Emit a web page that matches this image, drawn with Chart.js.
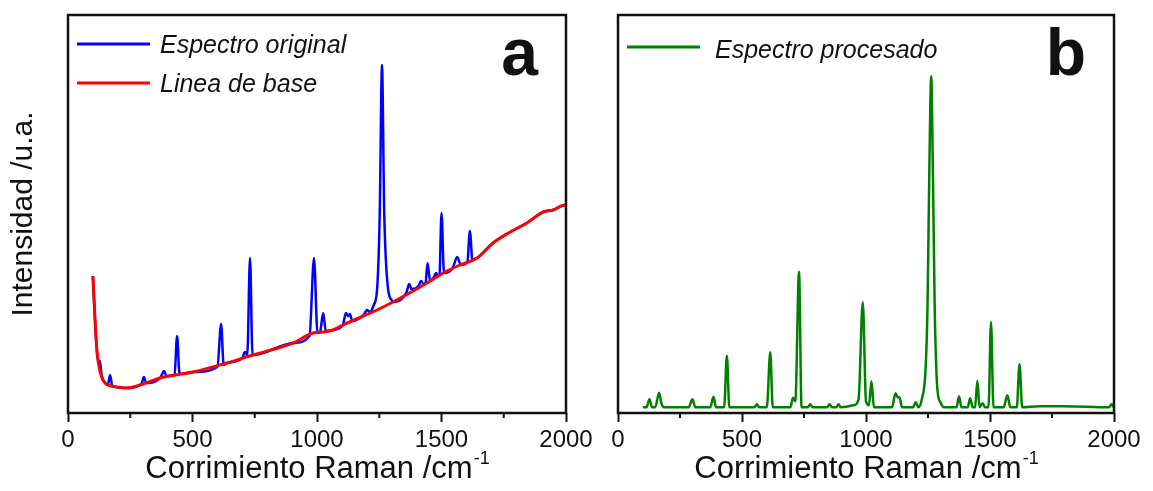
<!DOCTYPE html>
<html lang="es">
<head>
<meta charset="UTF-8">
<title>Espectro Raman</title>
<script src="https://cdn.jsdelivr.net/npm/chart.js@4"></script>
<style>
  body { margin: 0; background: #fff; }
  .wrap { position: relative; width: 1153px; height: 491px; }
  canvas { position: absolute; left: 0; top: 0; }
</style>
</head>
<body>
<div class="wrap">
  <canvas id="chartA" width="1153" height="491"></canvas>
  <canvas id="chartB" width="1153" height="491"></canvas>
</div>
<script>
// Raman shift (cm-1) and intensity (a.u.)
const baseX = [100, 108, 115, 122, 135, 149, 195, 236, 302, 370, 503, 638, 743, 904, 984, 1024, 1064, 1104, 1241, 1305, 1442, 1507, 1574, 1643, 1707, 1776, 1843, 1908, 1948, 1996, 2000];
const baseY = [137, 96, 66, 50, 36, 30, 26, 25, 29, 35, 41, 50, 58, 70, 80, 81, 83, 88, 103, 111, 130, 140, 148, 155, 170, 181, 190, 201, 203, 208, 208];

const origX = [100, 108, 115, 120, 128, 135, 149, 160, 169, 178, 195, 236, 295, 305, 314, 370, 386, 395, 428, 438, 448, 503, 600, 615, 625, 638, 700, 711, 720, 731, 741, 743, 904, 970, 988, 1002, 1012, 1025, 1035, 1064, 1104, 1116, 1125, 1132, 1142, 1190, 1200, 1212, 1228, 1242, 1252, 1261, 1270, 1285, 1300, 1305, 1360, 1370, 1380, 1408, 1418, 1428, 1436, 1444, 1454, 1470, 1478, 1487, 1492, 1500, 1510, 1545, 1563, 1578, 1604, 1614, 1624, 1643, 1707, 1776, 1843, 1908, 1948, 1996, 2000];
const origY = [137, 96, 66, 52, 52, 38, 30, 28, 38, 27, 26, 25, 29, 36, 30, 35, 42, 37, 38, 77, 39, 41, 46, 89, 48, 50, 55, 61, 58, 155, 58, 58, 70, 77, 155, 80, 81, 100, 82, 83, 88, 100, 97, 99, 92, 99, 103, 101, 108, 126, 200, 348, 200, 125, 113, 111, 121, 129, 124, 127, 132, 129, 130, 150, 132, 136, 140, 137, 138, 200, 140, 145, 156, 148, 151, 182, 153, 155, 170, 181, 190, 201, 203, 208, 208];

const procX = [100, 115, 127, 137, 150, 166, 175, 185, 285, 300, 312, 372, 385, 395, 428, 439, 449, 550, 560, 570, 600, 614, 624, 695, 706, 715, 730, 740, 765, 775, 785, 843, 853, 863, 880, 889, 898, 950, 970, 987, 1000, 1012, 1022, 1032, 1105, 1119, 1128, 1135, 1145, 1190, 1200, 1212, 1225, 1240, 1248, 1255, 1263, 1270, 1277, 1287, 1300, 1315, 1365, 1375, 1385, 1410, 1420, 1430, 1440, 1449, 1458, 1470, 1480, 1494, 1504, 1514, 1555, 1570, 1582, 1608, 1619, 1630, 1700, 1800, 1980, 1990, 2000];
const procY = [0, 0, 8, 0, 0, 14.6, 4, 0, 0, 8, 0, 0, 10.6, 0, 0, 51.6, 0, 0, 3, 0, 0, 55, 0, 0, 9.6, 6, 135.6, 0, 0, 3, 0, 0, 3, 0, 0, 3, 0, 2, 8, 105, 6, 2, 26, 0, 0, 14, 10, 10, 0, 0, 5, 0, 8, 37, 100, 230, 331, 230, 100, 21, 5, 0, 0, 11, 0, 0, 9, 0, 0, 26.6, 0, 4, 0, 0, 85.6, 0, 0, 12, 0, 0, 43, 0, 1, 1, 0, 3, 0];

const xTicks = [0, 500, 1000, 1500, 2000];
const minorTicks = [250, 750, 1250, 1750];

const FONT = "'Liberation Sans', Arial, sans-serif";

function pts(xs, ys) {
  return xs.map((x, i) => ({ x: x, y: ys[i] }));
}

// box, minor ticks, legend, panel letter and x title
const framePlugin = {
  id: 'frame',
  afterDraw(chart, args, opts) {
    const ctx = chart.ctx;
    const a = chart.chartArea;
    const x = chart.scales.x;
    ctx.save();
    ctx.strokeStyle = '#111';
    ctx.lineWidth = 2;
    minorTicks.forEach(v => {
      const px = x.getPixelForValue(v);
      ctx.beginPath();
      ctx.moveTo(px, a.bottom);
      ctx.lineTo(px, a.bottom + 5);
      ctx.stroke();
    });
    ctx.lineWidth = 2.5;
    ctx.strokeRect(a.left, a.top, a.right - a.left, a.bottom - a.top);

    ctx.font = 'italic 25px ' + FONT;
    ctx.textBaseline = 'middle';
    chart.data.datasets.forEach((ds, i) => {
      const y = a.top + opts.legendTop + i * 39;
      ctx.strokeStyle = ds.borderColor;
      ctx.lineWidth = 3;
      ctx.beginPath();
      ctx.moveTo(a.left + 9, y);
      ctx.lineTo(a.left + 82, y);
      ctx.stroke();
      ctx.fillStyle = '#111';
      ctx.fillText(ds.label, a.left + opts.textLeft, y + opts.textDy);
    });

    ctx.font = 'bold 66px ' + FONT;
    ctx.textAlign = 'right';
    ctx.textBaseline = 'alphabetic';
    ctx.fillText(opts.letter, a.right - 28, 75);

    ctx.textAlign = 'left';
    const main = 'Corrimiento Raman /cm';
    ctx.font = '31px ' + FONT;
    const wMain = ctx.measureText(main).width;
    ctx.font = '18px ' + FONT;
    const wSup = ctx.measureText('-1').width;
    const x0 = (a.left + a.right) / 2 - (wMain + wSup) / 2;
    ctx.font = '31px ' + FONT;
    ctx.fillText(main, x0, 478);
    ctx.font = '18px ' + FONT;
    ctx.fillText('-1', x0 + wMain + 1, 464);
    ctx.restore();
  }
};

function xScale() {
  return {
    type: 'linear',
    min: 0,
    max: 2000,
    afterFit: s => { s.height = 78; },
    afterBuildTicks: s => { s.ticks = xTicks.map(v => ({ value: v })); },
    ticks: {
      font: { size: 24, family: FONT },
      color: '#111',
      padding: 4,
      maxRotation: 0,
      autoSkip: false,
      callback: v => String(v)
    },
    grid: { drawOnChartArea: false, tickLength: 9, tickWidth: 2, tickColor: '#111' },
    border: { display: false }
  };
}

new Chart(document.getElementById('chartA'), {
  type: 'line',
  data: {
    datasets: [
      { label: 'Espectro original', data: pts(origX, origY), borderColor: '#0000ff', borderWidth: 2.5, order: 1 },
      { label: 'Linea de base', data: pts(baseX, baseY), borderColor: '#ff0000', borderWidth: 3, order: 0 }
    ]
  },
  options: {
    responsive: false,
    animation: false,
    events: [],
    parsing: false,
    elements: { point: { radius: 0 }, line: { cubicInterpolationMode: 'monotone' } },
    layout: { padding: { top: 15, right: 587, left: 0, bottom: 0 } },
    scales: {
      x: xScale(),
      y: {
        min: 0,
        max: 398,
        afterFit: s => { s.width = 68; },
        ticks: { display: false },
        grid: { display: false },
        border: { display: false },
        title: { display: true, text: 'Intensidad /u.a.', font: { size: 30, family: FONT }, color: '#111', padding: { top: 6, bottom: 0 } }
      }
    },
    plugins: {
      legend: { display: false },
      tooltip: { enabled: false },
      frame: { letter: 'a', legendTop: 29, textLeft: 92, textDy: 2 }
    }
  },
  plugins: [framePlugin]
});

new Chart(document.getElementById('chartB'), {
  type: 'line',
  data: {
    datasets: [
      { label: 'Espectro procesado', data: pts(procX, procY), borderColor: '#008000', borderWidth: 2.5 }
    ]
  },
  options: {
    responsive: false,
    animation: false,
    events: [],
    parsing: false,
    elements: { point: { radius: 0 }, line: { cubicInterpolationMode: 'monotone' } },
    layout: { padding: { top: 15, right: 39, left: 618, bottom: 0 } },
    scales: {
      x: xScale(),
      y: { display: false, min: -5.7, max: 392.3 }
    },
    plugins: {
      legend: { display: false },
      tooltip: { enabled: false },
      frame: { letter: 'b', legendTop: 32, textLeft: 97, textDy: 4 }
    }
  },
  plugins: [framePlugin]
});
</script>
</body>
</html>
